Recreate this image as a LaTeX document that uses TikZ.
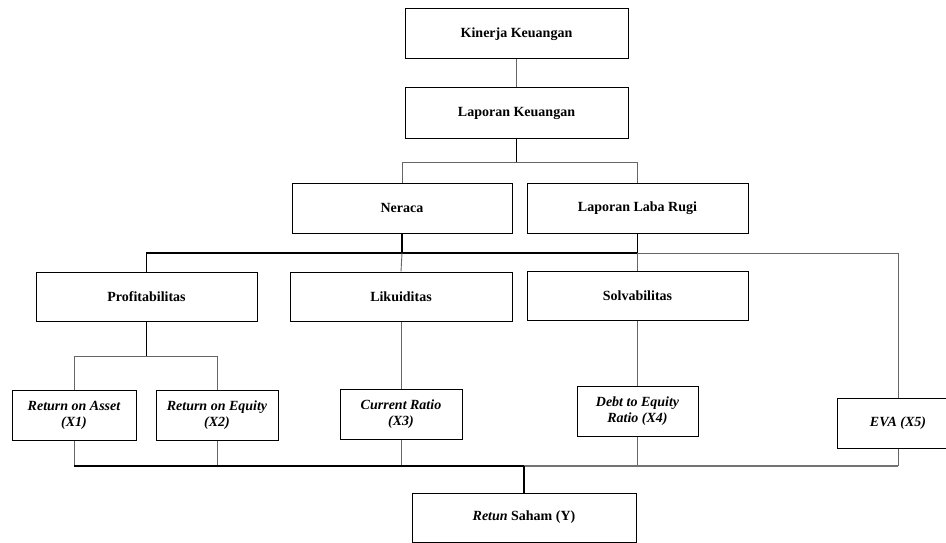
\documentclass[tikz,border=0pt]{standalone}
\usepackage{fontspec}
\setmainfont{Liberation Serif}
\begin{document}
\begin{tikzpicture}[x=1pt,y=-1pt,
  box/.style={draw=black,line width=1pt,rectangle,inner sep=2pt,align=center,
    font=\fontsize{14}{16}\selectfont\bfseries,minimum height=50},
  thinln/.style={draw=black!60,line width=0.9pt},
  thickln/.style={draw=black,line width=1.3pt},
  grayln/.style={draw=black!55,line width=1.3pt}]
\useasboundingbox (0,0) rectangle (946,543);
\clip (0,0) rectangle (946,543);
\node[box,minimum width=223] (kin) at (516.5,34) {Kinerja Keuangan};
\node[box,minimum width=223] (lap) at (516.5,113) {Laporan Keuangan};
\node[box,minimum width=220] (ner) at (402,208) {Neraca};
\node[box,minimum width=221] (lrl) at (637.5,208) {Laporan Laba Rugi};
\node[box,minimum width=221,minimum height=49] (pro) at (146.5,296.5) {Profitabilitas};
\node[box,minimum width=222,minimum height=49] (lik) at (401,296.5) {Likuiditas};
\node[box,minimum width=221,minimum height=49] (sol) at (637.5,295.5) {Solvabilitas};
\node[box,minimum width=124] (roa) at (74,415) {\itshape Return on Asset\\\itshape (X1)};
\node[box,minimum width=122] (roe) at (217,415) {\itshape Return on Equity\\\itshape (X2)};
\node[box,minimum width=122] (cr) at (401,414) {\itshape Current Ratio\\\itshape (X3)};
\node[box,minimum width=121] (der) at (637.5,411) {\itshape Debt to Equity\\\itshape Ratio (X4)};
\node[box,minimum width=122] (eva) at (898,423) {\itshape EVA (X5)};
\node[box,minimum width=224,minimum height=49] (ret) at (524,517.5) {\textit{Retun} Saham (Y)};
\coordinate (b1) at (516.5,162);
\coordinate (b2) at (402,253);
\coordinate (b3) at (146.5,356);
\coordinate (b4) at (524,466);
% top
\draw[thinln] (kin.south) -- (lap.north);
\draw[thickln] (lap.south) -- (b1);
\draw[thinln] (ner.north) -- (ner.north |- b1) -- (lrl.north |- b1) -- (lrl.north);
% second bus
\draw[thickln] (ner.south) -- (b2);
\draw[thickln] (lrl.south) -- (lrl.south |- b2);
\draw[thickln] (pro.north) -- (pro.north |- b2) -- (lrl.south |- b2);
\draw[thinln] (lrl.south |- b2) -- (eva.north |- b2) -- (eva.north);
\draw[thinln] (b2) -- (lik.north);
\draw[thinln] (lrl.south |- b2) -- (sol.north);
% third level
\draw[thickln] (pro.south) -- (b3);
\draw[thinln] (roa.north) -- (roa.north |- b3) -- (roe.north |- b3) -- (roe.north);
\draw[thinln] (lik.south) -- (cr.north);
\draw[thinln] (sol.south) -- (der.north);
% bottom bus
\draw[thinln] (roa.south) -- (roa.south |- b4);
\draw[thinln] (roe.south) -- (roe.south |- b4);
\draw[thinln] (cr.south) -- (cr.south |- b4);
\draw[thinln] (der.south) -- (der.south |- b4);
\draw[thinln] (eva.south) -- (eva.south |- b4);
\draw[grayln] (b4) -- (eva.south |- b4);
\draw[thickln] (roa.south |- b4) -- (b4);
\draw[thickln] (b4) -- (ret.north);
\end{tikzpicture}
\end{document}
